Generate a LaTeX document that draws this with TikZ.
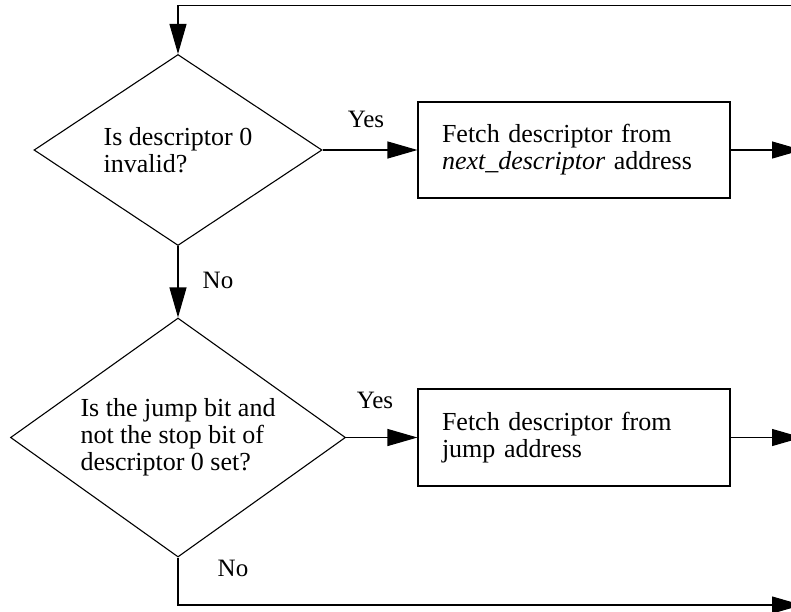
\documentclass[tikz,border=0pt]{standalone}
\usepackage{fontspec}
\setmainfont{Liberation Serif}
\usetikzlibrary{shapes.geometric,arrows.meta}
\begin{document}
\begin{tikzpicture}[x=1pt,y=-1pt,
  line width=1.1pt,
  every node/.style={font=\fontsize{26}{27}\selectfont},
  decision/.style={diamond,draw,inner sep=0pt,align=left},
  procbox/.style={rectangle,draw,minimum width=312pt,text width=264pt,align=left},
  lbl/.style={anchor=base,font=\fontsize{25}{25}\selectfont},
  flow/.style={-{Triangle[length=30pt,width=17pt]}}]
\useasboundingbox (0,0) rectangle (791,611);

% decisions
\node[decision,aspect=1.5,minimum width=288pt,minimum height=191pt] (d1) at (178,150)
  {Is descriptor 0\\invalid?};
\node[decision,aspect=1.4,minimum width=335pt,minimum height=239pt] (d2) at (178,437.5)
  {Is the jump bit and\\not the stop bit of\\descriptor 0 set?};

% fetch steps
\node[procbox,minimum height=96pt] (b1) at (574,150)
  {Fetch descriptor from\\\textit{next\_descriptor} address};
\node[procbox,minimum height=97pt] (b2) at (574,437.5)
  {Fetch descriptor from\\jump address};

% loop and exit points
\coordinate (loopin) at (802,5.5);
\coordinate (loopcorner) at (178,5.5);
\coordinate (out1) at (802,150);
\coordinate (out2) at (802,437.5);
\coordinate (botcorner) at (178,605);
\coordinate (out3) at (802,605);

% connectors
\draw[flow] (loopin) -- (loopcorner) -- (d1.north);
\draw[flow] (d1.east) -- (b1.west);
\draw[flow] (b1.east) -- (out1);
\draw[flow] (d1.south) -- (d2.north);
\draw[flow] (d2.east) -- (b2.west);
\draw[flow] (b2.east) -- (out2);
\draw[flow] (d2.south) -- (botcorner) -- (out3);

% branch labels
\node[lbl] (yes1) at (366,127) {Yes};
\node[lbl] (no1) at (218,288) {No};
\node[lbl] (yes2) at (375,408) {Yes};
\node[lbl] (no2) at (233,576) {No};
\end{tikzpicture}
\end{document}
